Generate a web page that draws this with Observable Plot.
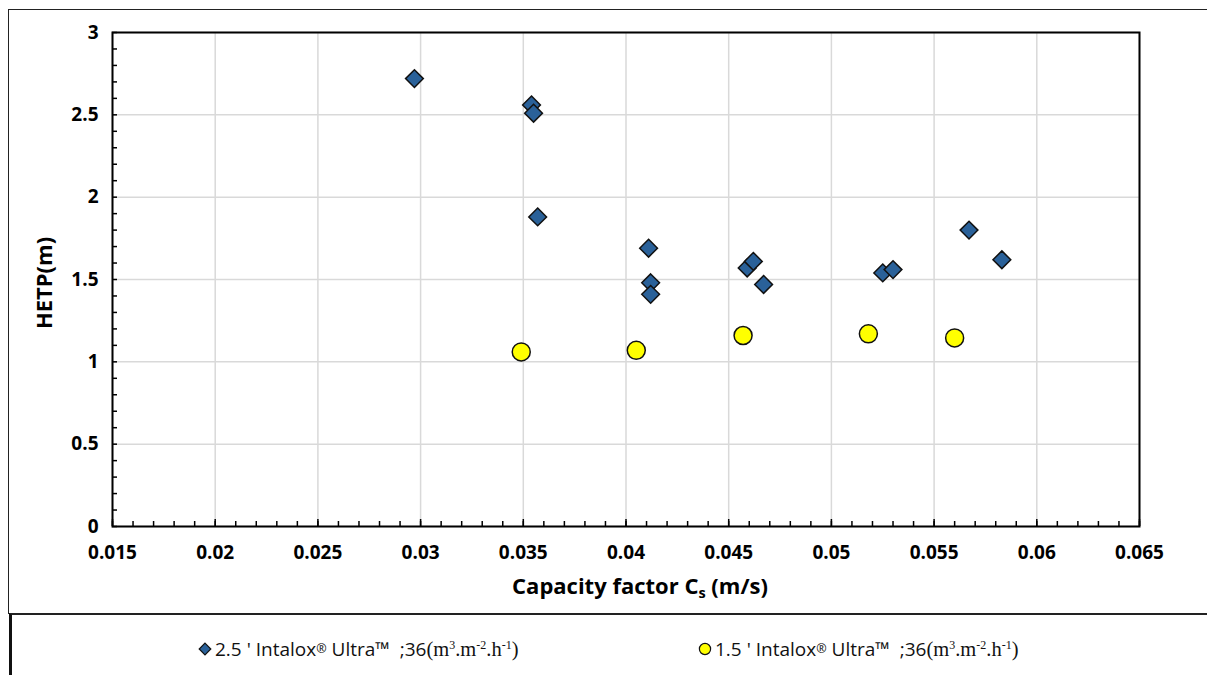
<!DOCTYPE html>
<html>
<head>
<meta charset="utf-8">
<script src="https://cdn.jsdelivr.net/npm/d3@7"></script>
<script src="https://cdn.jsdelivr.net/npm/@observablehq/plot@0.6"></script>
<style>
  html, body { margin: 0; padding: 0; background: #fff; }
  #wrap { position: relative; width: 1207px; height: 675px; overflow: hidden; font-family: "Open Sans", Lato, sans-serif; }
  #chartbox { position: absolute; left: 8px; top: 9px; width: 1210px; height: 604px; border-left: 1.5px solid #222; border-top: 1.5px solid #222; }
  #plot { position: absolute; left: 0; top: 0; }
  #legend { position: absolute; left: 9px; top: 613px; width: 1210px; height: 70px; border-left: 3px solid #111; border-top: 2px solid #222; background: #fff; }
  .item { position: absolute; top: 21px; font-size: 19px; color: #111; white-space: pre; display: flex; align-items: center; }
  .item .unit { font-family: "Liberation Serif", "Times New Roman", serif; font-size: 20.5px; }
  .item sup { font-size: 12px; vertical-align: 7px; line-height: 0; }
  .item .reg { font-size: 12.5px; vertical-align: 6px; line-height: 0; }
  .item svg { margin-right: 3px; }
</style>
</head>
<body>
<div id="wrap">
  <div id="chartbox"></div>
  <div id="plot"></div>
  <div id="legend">
    <div class="item" style="left:186px"><svg width="14" height="14" viewBox="-7 -7 14 14"><path d="M0,-5.8L5.8,0L0,5.8L-5.8,0Z" fill="#2a6199" stroke="#111" stroke-width="1.2"/></svg>2.5 ' Intalox<span class="reg">®</span> Ultra™  ;36<span class="unit">(m<sup>3</sup>.m<sup>-2</sup>.h<sup>-1</sup>)</span></div>
    <div class="item" style="left:686px"><svg width="14" height="14" viewBox="-7 -7 14 14"><circle r="5.6" fill="#ffff00" stroke="#111" stroke-width="1.2"/></svg>1.5 ' Intalox<span class="reg">®</span> Ultra™  ;36<span class="unit">(m<sup>3</sup>.m<sup>-2</sup>.h<sup>-1</sup>)</span></div>
  </div>
</div>
<script>
// 2.5' Intalox Ultra packing: capacity factor Cs (m/s) vs HETP (m)
const ultra25Cs   = [0.0297, 0.0354, 0.0355, 0.0357, 0.0411, 0.0412, 0.0412, 0.0459, 0.0462, 0.0467, 0.0525, 0.0530, 0.0567, 0.0583];
const ultra25Hetp = [2.72,   2.56,   2.51,   1.88,   1.69,   1.48,   1.41,   1.57,   1.61,   1.47,   1.54,   1.56,   1.80,   1.62];

// 1.5' Intalox Ultra packing
const ultra15Cs   = [0.0349, 0.0405, 0.0457, 0.0518, 0.0560];
const ultra15Hetp = [1.06,   1.07,   1.16,   1.17,   1.145];

// Axis ticks
const xMajor = [0.015, 0.02, 0.025, 0.03, 0.035, 0.04, 0.045, 0.05, 0.055, 0.06, 0.065];
const xMinor = d3.range(15, 66).map(d => d / 1000);
const yMajor = [0, 0.5, 1, 1.5, 2, 2.5, 3];
const yMinor = d3.range(0, 31).map(d => d / 10);

const series25 = ultra25Cs.map((x, i) => ({x, y: ultra25Hetp[i]}));
const series15 = ultra15Cs.map((x, i) => ({x, y: ultra15Hetp[i]}));

const fmt = d => String(+d.toFixed(3));
const FONT = "'Open Sans', Lato, sans-serif";

const chart = Plot.plot({
  width: 1207,
  height: 613,
  marginLeft: 112,
  marginTop: 32,
  marginRight: 68,
  marginBottom: 87,
  style: {fontFamily: FONT, fontSize: "19px", fontWeight: "bold", color: "#000", background: "transparent"},
  x: {domain: [0.015, 0.065]},
  y: {domain: [0, 3]},
  marks: [
    Plot.gridX(xMajor, {stroke: "#d9d9d9", strokeOpacity: 1, strokeWidth: 1.5}),
    Plot.gridY(yMajor, {stroke: "#d9d9d9", strokeOpacity: 1, strokeWidth: 1.5}),
    Plot.axisX({ticks: xMinor, tickSize: -5, strokeWidth: 1.5, tickFormat: () => "", label: null}),
    Plot.axisX({ticks: xMajor, tickSize: -7, strokeWidth: 1.5, tickFormat: () => "", label: null}),
    Plot.axisX({ticks: xMajor, tickSize: 0, tickPadding: 19, tickFormat: fmt, label: null, fontSize: 19}),
    Plot.axisY({ticks: yMinor, tickSize: -5, strokeWidth: 1.5, tickFormat: () => "", label: null}),
    Plot.axisY({ticks: yMajor, tickSize: 0, tickPadding: 14, tickFormat: fmt, label: null, fontSize: 19}),
    Plot.frame({stroke: "#000", strokeWidth: 2}),
    Plot.dot(series15, {x: "x", y: "y", r: 9, fill: "#ffff00", stroke: "#111", strokeWidth: 1.5}),
    Plot.dot(series25, {x: "x", y: "y", r: 8, symbol: "diamond2", fill: "#2a6199", stroke: "#111", strokeWidth: 1.5})
  ]
});

document.getElementById("plot").appendChild(chart);

// Axis titles
const svg = d3.select(chart);
const xt = svg.append("text")
  .attr("x", 640).attr("y", 594)
  .attr("text-anchor", "middle")
  .attr("font-family", FONT)
  .attr("font-weight", "bold").attr("font-size", 22).attr("fill", "#000");
xt.append("tspan").text("Capacity factor C");
xt.append("tspan").attr("font-size", 14.5).attr("dy", 4).text("s");
xt.append("tspan").attr("dy", -4).text(" (m/s)");

svg.append("text")
  .attr("transform", "translate(52,283) rotate(-90)")
  .attr("text-anchor", "middle")
  .attr("font-family", FONT)
  .attr("font-weight", "bold").attr("font-size", 22).attr("fill", "#000")
  .text("HETP(m)");
</script>
</body>
</html>
